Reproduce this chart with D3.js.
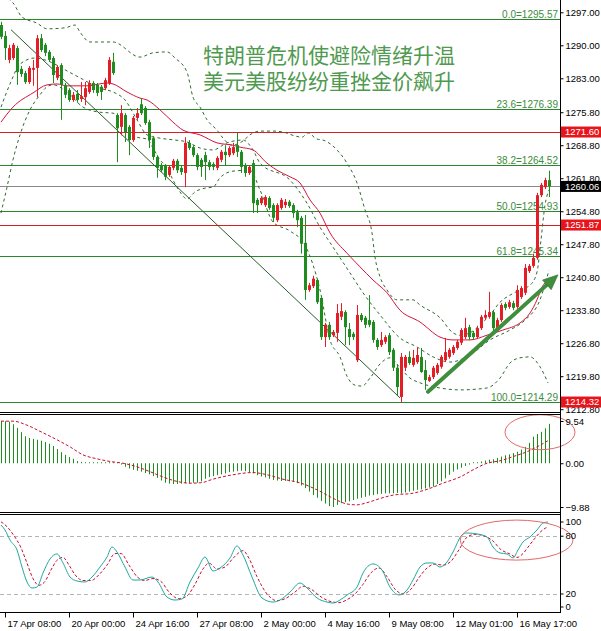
<!DOCTYPE html>
<html>
<head>
<meta charset="utf-8">
<script src="https://cdn.jsdelivr.net/npm/d3@7"></script>
<style>
  body { margin: 0; background: #fff; }
  text { font-family: "Liberation Sans", Arial, sans-serif; }
</style>
</head>
<body>
<svg id="chart" width="601" height="631"></svg>
<script>
'use strict';

// ---- data (H4 gold, MT4 style) ----
var opens = [1294.3,1292.0,1286.9,1287.3,1289.4,1285.0,1284.1,1282.2,1284.8,1285.2,
  1291.5,1290.1,1288.6,1287.3,1283.1,1285.8,1281.6,1280.5,1278.4,1279.7,
  1278.6,1279.0,1280.1,1282.0,1281.6,1281.2,1280.9,1282.0,1286.5,1275.2,
  1272.7,1275.2,1272.7,1269.9,1274.6,1277.5,1276.7,1273.7,1270.3,1266.3,
  1264.6,1264.4,1262.5,1264.0,1265.5,1264.0,1262.9,1269.3,1268.4,1266.7,
  1265.7,1266.7,1265.2,1264.8,1264.0,1265.7,1267.4,1266.7,1267.1,1268.8,
  1267.4,1264.6,1262.9,1265.0,1257.2,1256.5,1256.1,1257.6,1256.1,1252.9,
  1255.5,1256.1,1256.8,1256.1,1254.6,1253.4,1248.1,1238.1,1238.9,1240.2,
  1236.4,1228.1,1230.7,1228.5,1229.0,1232.4,1233.4,1229.8,1228.8,1223.2,
  1232.8,1232.2,1231.7,1231.3,1227.5,1226.4,1227.1,1228.5,1225.4,1221.6,
  1215.4,1221.6,1223.9,1222.2,1222.8,1223.9,1221.1,1218.8,1219.6,1220.5,
  1221.8,1223.2,1223.9,1224.7,1225.8,1226.9,1228.1,1230.2,1229.0,1228.1,
  1230.0,1232.2,1232.4,1233.4,1230.0,1231.7,1235.1,1234.5,1235.3,1234.5,
  1236.6,1237.5,1242.1,1243.2,1244.9,1258.2,1259.9,1261.4];
var highs = [1295.0,1293.0,1290.1,1290.5,1289.9,1285.6,1284.6,1285.6,1286.9,1292.2,
  1292.4,1290.5,1289.0,1287.7,1285.8,1286.2,1282.0,1280.9,1280.1,1280.5,
  1282.2,1282.2,1282.6,1282.4,1282.0,1281.6,1283.1,1287.5,1288.4,1275.6,
  1277.3,1275.6,1273.1,1275.0,1276.7,1278.8,1277.1,1274.2,1270.7,1266.7,
  1265.0,1264.8,1264.6,1265.9,1265.9,1264.6,1270.5,1269.9,1268.8,1267.1,
  1266.1,1267.4,1265.7,1265.2,1266.5,1267.8,1268.8,1268.6,1269.3,1271.4,
  1267.8,1265.0,1264.6,1265.7,1257.6,1258.0,1258.2,1258.0,1256.5,1256.5,
  1257.6,1257.4,1257.2,1256.5,1255.1,1253.8,1254.0,1239.6,1241.1,1240.5,
  1236.6,1231.1,1231.3,1229.6,1235.1,1235.3,1233.8,1231.1,1229.2,1234.9,
  1233.2,1232.6,1237.0,1231.7,1227.9,1229.2,1228.5,1229.0,1225.8,1222.2,
  1224.7,1224.3,1225.1,1225.4,1225.8,1225.8,1223.2,1220.1,1222.0,1222.6,
  1224.3,1227.9,1225.8,1226.4,1227.5,1230.0,1232.2,1230.7,1229.4,1230.5,
  1232.8,1233.8,1237.7,1233.8,1232.2,1235.3,1235.5,1236.0,1235.8,1239.1,
  1238.9,1243.6,1243.6,1245.8,1258.7,1260.8,1261.9,1263.4];
var lows = [1291.3,1286.9,1286.2,1286.9,1281.6,1283.3,1281.8,1281.8,1281.4,1279.0,
  1288.6,1287.7,1286.5,1282.0,1282.6,1274.2,1278.8,1278.0,1278.0,1277.8,
  1278.0,1277.3,1279.7,1279.9,1279.2,1278.4,1280.5,1281.6,1283.7,1265.2,
  1270.9,1269.5,1266.7,1269.5,1274.2,1275.2,1273.1,1268.2,1265.7,1261.9,
  1263.1,1261.4,1262.1,1263.5,1262.9,1262.5,1259.9,1267.8,1266.3,1263.5,
  1262.1,1261.4,1263.5,1263.5,1263.5,1265.2,1264.6,1266.3,1266.7,1266.3,
  1262.9,1262.1,1262.5,1254.4,1254.4,1256.1,1255.7,1255.1,1252.5,1252.5,
  1255.1,1255.5,1255.5,1253.4,1251.4,1245.8,1236.0,1237.7,1238.5,1235.1,
  1227.5,1226.0,1227.5,1228.1,1227.1,1231.7,1226.4,1226.4,1227.5,1222.8,
  1231.3,1230.0,1230.2,1226.9,1225.4,1226.0,1226.6,1224.3,1220.9,1215.8,
  1214.3,1220.9,1222.2,1221.8,1222.4,1220.5,1216.9,1218.6,1219.2,1220.1,
  1221.4,1222.8,1223.5,1224.3,1225.4,1226.4,1227.7,1227.5,1227.5,1227.7,
  1229.6,1231.7,1232.0,1229.2,1229.6,1231.3,1233.8,1234.1,1233.8,1234.1,
  1236.2,1237.0,1241.7,1242.8,1244.5,1257.8,1259.5,1257.8];
var closes = [1291.8,1289.4,1289.4,1290.1,1284.3,1283.9,1282.2,1285.2,1285.2,1291.5,
  1289.0,1288.4,1286.9,1283.7,1285.4,1281.6,1279.5,1278.4,1279.5,1278.4,
  1279.2,1280.9,1282.0,1280.5,1279.9,1280.1,1282.6,1286.9,1284.1,1272.4,
  1275.6,1271.6,1269.9,1274.6,1275.6,1275.6,1273.5,1269.9,1266.3,1264.0,
  1263.5,1262.1,1264.2,1265.5,1263.5,1263.1,1269.3,1268.2,1266.7,1264.2,
  1264.2,1265.2,1264.2,1264.2,1266.1,1267.4,1266.7,1268.2,1268.4,1267.4,
  1264.2,1262.9,1264.2,1256.5,1256.1,1257.6,1257.8,1255.5,1253.4,1256.1,
  1257.2,1256.8,1255.9,1254.4,1252.9,1247.9,1238.1,1239.1,1240.5,1235.5,
  1228.1,1230.7,1228.1,1229.2,1233.2,1233.6,1230.2,1228.1,1228.1,1232.8,
  1231.7,1230.7,1230.7,1227.5,1226.0,1227.5,1228.1,1224.9,1221.6,1217.5,
  1223.9,1223.9,1222.6,1223.7,1224.3,1220.7,1219.0,1219.6,1221.6,1222.2,
  1223.9,1224.9,1225.4,1226.0,1227.1,1229.6,1230.0,1228.1,1228.1,1230.0,
  1232.4,1232.8,1233.4,1230.0,1231.7,1234.9,1234.3,1235.5,1234.3,1238.1,
  1238.5,1242.8,1243.2,1244.9,1258.2,1260.4,1261.4,1260.06];

// moving average and bands, [bar, price]
var maLine = [[0,1273.7],[3,1276.9],[8,1279.9],[11.5,1281.6],[14,1281.8],[16.5,1281.4],[21.5,1281.4],
  [26.5,1282.0],[28,1281.8],[31.5,1280.1],[34.75,1278.8],[36.5,1278.4],[39.75,1276.3],[43,1273.7],
  [45.5,1272.0],[49.75,1271.0],[54,1269.3],[58,1268.8],[59.75,1268.4],[63,1267.8],[66.5,1265.0],
  [69,1263.5],[72.25,1262.1],[74.75,1260.8],[77.25,1257.2],[79.75,1254.4],[82.25,1250.2],[86.5,1245.9],
  [89.75,1243.0],[93,1240.2],[96.5,1237.5],[99.75,1233.8],[104.75,1231.3],[109.75,1228.1],[113,1227.5],
  [117.25,1227.5],[121.5,1228.5],[125.5,1229.6],[129.75,1231.1],[132.25,1233.2],[134,1236.0],
  [135.25,1238.7],[136.75,1240.2]];
var bandUpper = [[0,1304.9],[2.25,1299.6],[3,1299.0],[5.25,1296.0],[9,1294.7],[11.5,1293.5],[16,1293.7],
  [18.5,1294.3],[19.75,1292.8],[22.25,1290.7],[28,1290.7],[34.75,1287.5],[38,1288.4],[41.5,1288.6],
  [43.5,1287.3],[46.5,1284.3],[48,1279.0],[49.75,1276.9],[51.5,1274.2],[54,1272.0],[55.5,1270.3],
  [57.75,1268.8],[59.75,1269.3],[63,1271.4],[64.75,1271.8],[68,1271.8],[70.5,1271.6],[73,1270.9],
  [75.25,1270.5],[76.75,1271.4],[79,1270.1],[80.5,1269.9],[84,1267.8],[86.5,1265.0],[89,1260.8],
  [91,1255.1],[92.75,1250.2],[93.5,1245.1],[94.75,1240.9],[96.5,1238.1],[99,1236.0],[103,1236.0],
  [104.75,1234.9],[109.75,1232.2],[113,1229.0],[114.75,1228.5],[117.25,1229.0],[119.75,1230.7],
  [122.25,1232.8],[124.75,1235.5],[127.25,1237.0],[129.75,1238.1],[132.25,1239.1],[134,1241.9],
  [135,1248.7],[136,1256.1],[137,1259.3]];
var bandLower = [[0,1254.4],[1.5,1259.9],[3,1265.7],[4.75,1271.0],[7.25,1276.3],[9.75,1279.5],
  [11.5,1281.2],[13,1281.6],[16.5,1280.1],[20.5,1276.9],[24.75,1275.8],[28,1275.6],[31,1273.1],
  [34,1270.5],[36.5,1270.1],[38,1268.2],[39.75,1265.7],[41.5,1264.0],[43,1261.4],[44.75,1258.9],
  [46.5,1257.4],[48.5,1258.9],[51,1259.7],[53,1259.9],[54.75,1261.9],[58,1263.3],[62.25,1263.5],
  [64.75,1259.3],[68,1252.5],[72.25,1250.6],[76,1247.6],[79.75,1238.1],[82.25,1227.5],[84.75,1223.9],
  [86.5,1219.8],[88.5,1217.9],[90.25,1217.7],[92.25,1219.4],[94.75,1222.4],[97.25,1223.7],
  [99.75,1221.6],[102.25,1219.4],[104.75,1218.4],[109.75,1217.3],[114.75,1216.9],[121.5,1217.3],
  [124.75,1219.4],[127.25,1222.6],[129.75,1223.7],[132.25,1223.9],[134.75,1221.8],[136.75,1218.4]];
var bandInner = [[0,1276.9],[2.25,1281.8],[4.75,1286.0],[8.5,1287.3],[12.25,1286.5],[16,1284.8],
  [19.75,1283.1],[24.75,1280.9],[28,1280.1],[31,1278.4],[34,1274.2],[36.5,1271.0],[39.75,1270.3],
  [43.5,1269.9],[46.5,1269.5],[49.75,1268.2],[53,1267.8],[56.5,1269.3],[60.5,1269.9],[63,1267.8],
  [64.75,1265.0],[72.25,1261.4],[76.5,1256.5],[79.75,1251.4],[83,1247.2],[87.25,1241.7],[90.5,1237.5],
  [94.75,1232.8],[99.75,1227.9],[104,1226.0],[108,1223.9],[112.25,1222.8],[117.25,1224.3],
  [122.25,1227.5],[127.25,1229.6],[131,1231.7],[134.75,1236.0],[137,1242.3]];

// MACD histogram per bar, signal as [bar, value]
var macdHist = [9.54,9.5,9.4,8.8,8.0,7.0,6.1,5.7,5.5,5.3,
  5.1,4.8,4.4,3.9,3.2,2.5,1.9,1.4,1.0,0.5,
  0.3,0.2,0.1,0.1,0.1,0.05,0.05,0.05,0.0,-0.1,
  -0.3,-0.8,-1.2,-1.5,-1.7,-1.9,-2.2,-2.5,-2.9,-3.3,
  -3.9,-4.4,-4.6,-4.7,-4.7,-4.6,-4.5,-4.5,-4.4,-4.4,
  -4.1,-3.5,-3.1,-2.9,-2.7,-2.5,-2.3,-2.0,-1.9,-1.8,
  -1.7,-1.8,-2.0,-2.3,-2.7,-3.0,-3.2,-3.5,-3.8,-3.9,
  -4.0,-4.0,-4.1,-4.1,-4.5,-5.0,-5.6,-6.4,-7.2,-7.8,
  -8.5,-9.1,-9.7,-9.88,-9.4,-9.0,-8.8,-8.6,-8.3,-8.0,
  -7.8,-7.6,-7.3,-7.2,-7.0,-6.9,-6.8,-6.8,-6.8,-6.7,
  -6.8,-6.6,-6.4,-6.2,-6.0,-5.9,-5.7,-5.5,-5.3,-4.7,
  -4.1,-3.4,-2.6,-1.9,-1.4,-1.0,-0.6,-0.3,0.0,0.2,
  0.4,0.6,0.8,0.9,1.2,1.5,1.8,2.0,2.3,2.6,
  3.1,3.7,4.6,6.0,6.6,7.1,7.9,8.9];
var macdSignal = [[0,9.5],[3,9.5],[6.5,8.6],[10,7.1],[14,5.3],[17.25,3.7],[20.5,1.9],[24,1.0],
  [27.25,0.4],[30.5,0],[34,-0.8],[37.25,-1.9],[40.5,-3.1],[44,-4.1],[47.25,-4.5],[50,-4.4],[53,-3.6],
  [58,-2.6],[63,-2.1],[66.5,-2.6],[70.5,-3.6],[75,-4.5],[79,-6.0],[83,-7.9],[86.5,-9.2],[89,-9.4],
  [91.5,-8.9],[95,-7.9],[98,-7.2],[100,-7.0],[102,-6.9],[106.5,-5.9],[110.5,-4.5],[115,-3.0],
  [118,-1.5],[121.5,0],[125,0.6],[128,1.5],[131.5,2.6],[134,3.7],[136.75,5.1]];

// Stochastic, [bar, value]
var stochMain = [[0,91.7],[1,86.5],[2.25,76],[4,65.7],[5.25,48],[6.5,32.4],[7.75,26.2],[9,27.2],
  [10.5,41.8],[12.25,56.4],[14,61.6],[15.5,52.2],[17.25,37.6],[19,33.5],[21,32.4],[22.75,37.6],
  [24.75,48],[26.5,58.4],[27.75,68.8],[29,63.6],[31,48],[33,34.5],[34.75,34.5],[37.75,37.6],
  [39.25,32.4],[41.5,16.8],[43.5,13.7],[45.25,14.8],[47.25,32.4],[49.25,47],[51,58.4],[53,43.9],
  [54.75,47],[57.25,57.4],[59,69.9],[60.5,60.5],[62.75,37.6],[65.25,15.8],[68,11.6],[69.75,13.7],
  [72.25,22],[74.75,31.4],[76.5,26.2],[79,15.8],[81.5,11.6],[83,10.6],[84.75,13.7],[86.5,18.9],
  [89,27.2],[90.5,41.8],[93,51.2],[95.25,44.9],[97.25,27.2],[99.5,19],[101.5,24.1],[103,34.5],
  [104.75,48],[106.5,52.2],[108,52.2],[109.75,48],[111.5,53.2],[113,63.6],[115.25,81.3],[116.5,83.4],
  [119,82.4],[121.5,79.2],[123,68.8],[124.75,62.6],[126.5,61.6],[128,57.4],[129.25,65.7],[130.5,74],
  [132.25,79.2],[134,86.5],[135.5,93.8],[136.75,94.8]];
var stochSignal = [[0,95],[1.5,90],[3,82],[5,68],[6.5,52],[8,36],[9.5,29],[11,33],[12.5,45],[14,55],
  [15.5,58],[17,50],[18.5,40],[20.5,34],[22.5,34],[24.5,40],[26.5,50],[28.5,62],[30,62],[32,50],
  [34,38],[36,34],[38,36],[40,33],[42,22],[44.5,15],[46.5,18],[48.5,30],[50.5,46],[52,52],[54,46],
  [56,48],[58,57],[60.5,65],[62,57],[64,38],[66.5,20],[69,13],[71,15],[73.5,22],[75.5,28],[77.5,25],
  [80,17],[82.5,12],[84.5,11],[86.5,14],[88.5,20],[90.5,30],[92.5,42],[94.5,47],[96.5,38],[98.5,25],
  [100.5,20],[102.5,25],[104.5,37],[106.5,47],[108.5,51],[110.5,50],[112.5,54],[114.5,66],[116.5,79],
  [118.5,82],[121,80],[123,75],[125,66],[127,62],[129,58],[130.5,62],[132,70],[133.5,78],[135,85],
  [136.75,90]];

var priceTicks = [1297.00,1290.00,1283.00,1275.80,1268.80,1261.80,1254.80,1247.80,1240.80,1233.80,1226.80,1219.80,1212.80];
var fibNames = ['0.0','23.6','38.2','50.0','61.8','100.0'];
var fibPrices = [1295.57,1276.39,1264.52,1254.93,1245.34,1214.29];
var redLevels = [1271.60,1251.87];
var bidPrice = 1260.06;
var alertPrice = 1214.32;
var macdTicks = [9.54,0,-9.88];
var stochTicks = [100,80,20,0];
var stochLevels = [80,20];
var timeBars = [1,17,33,49,65,81,97,113,129];
var timeLabels = ['17 Apr 08:00','20 Apr 00:00','24 Apr 16:00','27 Apr 08:00','2 May 00:00',
  '4 May 16:00','9 May 08:00','12 May 01:00','16 May 17:00'];
var trendLine = [[2.5,1293.3],[99.75,1215.2]];
var arrowLine = [[106.75,1216.5],[139.25,1241.3]];
var titleLines = ['特朗普危机使避险情绪升温','美元美股纷纷重挫金价飙升'];

// ---- layout ----
var axisX = 560;
var mainBottom = 412, macdTop = 414, macdBottom = 512, stochTop = 514, stochBottom = 612;
var upColor = '#e41e26', downColor = '#1f8c1f';
var axisFont = 9.5;

var svg = d3.select('#chart');
var x = d3.scaleLinear().domain([0, 137]).range([1, 549]);
var yPrice = d3.scaleLinear().domain([1212.8, 1297]).range([409.2, 12.3]);
var yMacd = d3.scaleLinear().domain([-9.88, 9.54]).range([507, 421]);
var yStoch = d3.scaleLinear().domain([0, 100]).range([613.2, 517]);

var defs = svg.append('defs');
[['clipMain', 0, mainBottom], ['clipMacd', macdTop + 1, macdBottom - macdTop - 1], ['clipStoch', stochTop + 1, stochBottom - stochTop - 1]]
  .forEach(function (c) {
    defs.append('clipPath').attr('id', c[0]).append('rect')
      .attr('x', 0).attr('y', c[1]).attr('width', axisX).attr('height', c[2]);
  });

// ---- main panel ----
var main = svg.append('g').attr('clip-path', 'url(#clipMain)');

fibPrices.forEach(function (p, i) {
  var yy = Math.round(yPrice(p)) + 0.5;
  main.append('line').attr('x1', 0).attr('x2', axisX).attr('y1', yy).attr('y2', yy)
    .attr('stroke', '#2a872a').attr('stroke-width', 1);
  main.append('text').attr('x', 558).attr('y', yy - 2).attr('text-anchor', 'end')
    .attr('font-size', 10).attr('fill', '#3c8c3c').text(fibNames[i] + '=' + p.toFixed(2));
});
redLevels.forEach(function (p) {
  var yy = Math.round(yPrice(p)) + 0.5;
  main.append('line').attr('x1', 0).attr('x2', axisX).attr('y1', yy).attr('y2', yy)
    .attr('stroke', '#d42020');
});
(function () {
  var yy = Math.round(yPrice(bidPrice)) + 0.5;
  main.append('line').attr('x1', 0).attr('x2', axisX).attr('y1', yy).attr('y2', yy)
    .attr('stroke', '#8a8a8a');
})();

titleLines.forEach(function (t, i) {
  main.append('text').attr('x', 203).attr('y', 63 + i * 26)
    .style('font-family', '"Noto Sans CJK SC", sans-serif')
    .attr('font-size', 21).attr('fill', '#4f9a4f').text(t);
});

var bandPath = d3.line()
  .x(function (d) { return x(d[0]); })
  .y(function (d) { return yPrice(d[1]); })
  .curve(d3.curveMonotoneX);
[bandUpper, bandLower, bandInner].forEach(function (b) {
  main.append('path').attr('d', bandPath(b)).attr('fill', 'none')
    .attr('stroke', '#2e6b2e').attr('stroke-width', 1).attr('stroke-dasharray', '3,3');
});
main.append('path').attr('d', bandPath(maLine)).attr('fill', 'none')
  .attr('stroke', '#d4143c').attr('stroke-width', 1);

main.append('line')
  .attr('x1', x(trendLine[0][0])).attr('y1', yPrice(trendLine[0][1]))
  .attr('x2', x(trendLine[1][0])).attr('y2', yPrice(trendLine[1][1]))
  .attr('stroke', '#2d5a2d').attr('stroke-width', 1);

var candles = main.append('g').selectAll('g').data(opens).enter().append('g')
  .attr('fill', function (d, i) { return closes[i] >= opens[i] ? upColor : downColor; })
  .attr('stroke', function (d, i) { return closes[i] >= opens[i] ? upColor : downColor; });
candles.append('line')
  .attr('x1', function (d, i) { return Math.round(x(i)) + 0.5; })
  .attr('x2', function (d, i) { return Math.round(x(i)) + 0.5; })
  .attr('y1', function (d, i) { return yPrice(highs[i]); })
  .attr('y2', function (d, i) { return yPrice(lows[i]); })
  .attr('stroke-width', 1);
candles.append('rect')
  .attr('x', function (d, i) { return Math.round(x(i)) - 1; })
  .attr('width', 3)
  .attr('y', function (d, i) { return yPrice(Math.max(opens[i], closes[i])); })
  .attr('height', function (d, i) { return Math.max(1, Math.abs(yPrice(opens[i]) - yPrice(closes[i]))); })
  .attr('stroke', 'none');

(function () {
  var x1 = x(arrowLine[0][0]), y1 = yPrice(arrowLine[0][1]);
  var x2 = x(arrowLine[1][0]), y2 = yPrice(arrowLine[1][1]);
  var ang = Math.atan2(y2 - y1, x2 - x1);
  var head = 15, half = 6.5;
  var bx = x2 - head * Math.cos(ang), by = y2 - head * Math.sin(ang);
  main.append('line').attr('x1', x1).attr('y1', y1).attr('x2', bx).attr('y2', by)
    .attr('stroke', '#3e8e3e').attr('stroke-width', 4).attr('stroke-linecap', 'round');
  var pts = [[x2, y2],
    [bx + half * Math.sin(ang), by - half * Math.cos(ang)],
    [bx - half * Math.sin(ang), by + half * Math.cos(ang)]];
  svg.append('polygon').attr('points', pts.map(function (p) { return p.join(','); }).join(' '))
    .attr('fill', '#3e8e3e').attr('stroke', '#2e6e2e').attr('stroke-width', 0.6);
})();

// ---- MACD panel ----
var macd = svg.append('g').attr('clip-path', 'url(#clipMacd)');
macd.selectAll('line.bar').data(macdHist).enter().append('line').attr('class', 'bar')
  .attr('x1', function (d, i) { return Math.round(x(i)) + 0.5; })
  .attr('x2', function (d, i) { return Math.round(x(i)) + 0.5; })
  .attr('y1', yMacd(0))
  .attr('y2', function (d) { return Math.abs(yMacd(d) - yMacd(0)) < 1 ? yMacd(0) - 1 : yMacd(d); })
  .attr('stroke', '#1f8c1f').attr('stroke-width', 1);
var valLine = function (ys) {
  return d3.line().x(function (d) { return x(d[0]); }).y(function (d) { return ys(d[1]); })
    .curve(d3.curveMonotoneX);
};
macd.append('path').attr('d', valLine(yMacd)(macdSignal)).attr('fill', 'none')
  .attr('stroke', '#c8102e').attr('stroke-width', 1).attr('stroke-dasharray', '3,2');

// ---- Stochastic panel ----
var stoch = svg.append('g').attr('clip-path', 'url(#clipStoch)');
stochLevels.forEach(function (v) {
  var yy = Math.round(yStoch(v)) + 0.5;
  stoch.append('line').attr('x1', 0).attr('x2', axisX).attr('y1', yy).attr('y2', yy)
    .attr('stroke', '#b4b4b4').attr('stroke-dasharray', '4,3');
});
stoch.append('path').attr('d', valLine(yStoch)(stochSignal)).attr('fill', 'none')
  .attr('stroke', '#c8102e').attr('stroke-width', 1).attr('stroke-dasharray', '3,2');
stoch.append('path').attr('d', valLine(yStoch)(stochMain)).attr('fill', 'none')
  .attr('stroke', '#20a8a0').attr('stroke-width', 1);

// ellipses drawn on the indicator panels
svg.append('ellipse').attr('cx', x(134.75)).attr('cy', yMacd(7.0))
  .attr('rx', x(8.75) - x(0)).attr('ry', yMacd(0) - yMacd(3.95))
  .attr('fill', 'none').attr('stroke', '#e06a6a').attr('stroke-width', 1);
svg.append('ellipse').attr('cx', x(128.9)).attr('cy', yStoch(76))
  .attr('rx', x(14.1) - x(0)).attr('ry', yStoch(0) - yStoch(20.8))
  .attr('fill', 'none').attr('stroke', '#e06a6a').attr('stroke-width', 1);

// ---- frame ----
var frame = svg.append('g').attr('stroke', '#000').attr('stroke-width', 1);
[mainBottom, macdTop, macdBottom, stochTop, stochBottom].forEach(function (yy) {
  frame.append('line').attr('x1', 0).attr('x2', axisX + 1).attr('y1', yy + 0.5).attr('y2', yy + 0.5);
});
frame.append('line').attr('x1', axisX + 0.5).attr('x2', axisX + 0.5).attr('y1', 0).attr('y2', stochBottom + 1);

// ---- axes ----
function styleAxis(g) {
  g.select('.domain').remove();
  g.selectAll('text').attr('font-size', axisFont).attr('fill', '#000')
    .style('font-family', '"Liberation Sans", Arial, sans-serif');
  g.selectAll('line').attr('stroke', '#000');
}
svg.append('g').attr('transform', 'translate(' + (axisX + 0.5) + ',0)')
  .call(d3.axisRight(yPrice).tickValues(priceTicks).tickFormat(d3.format('.2f')).tickSize(3).tickPadding(2))
  .call(styleAxis);
svg.append('g').attr('transform', 'translate(' + (axisX + 0.5) + ',0)')
  .call(d3.axisRight(yMacd).tickValues(macdTicks).tickFormat(d3.format('.2f')).tickSize(3).tickPadding(2))
  .call(styleAxis);
var stochAxis = svg.append('g').attr('transform', 'translate(' + (axisX + 0.5) + ',0)')
  .call(d3.axisRight(yStoch).tickValues(stochTicks).tickFormat(d3.format('d')).tickSize(3).tickPadding(2))
  .call(styleAxis);
stochAxis.selectAll('.tick').attr('transform', function (d) {
  var yy = Math.min(stochBottom - 5, Math.max(stochTop + 8, yStoch(d)));
  return 'translate(0,' + yy + ')';
});

var timeAxis = svg.append('g').attr('transform', 'translate(0,' + (stochBottom + 0.5) + ')')
  .call(d3.axisBottom(x).tickValues(timeBars)
    .tickFormat(function (d, i) { return timeLabels[i]; }).tickSize(5).tickPadding(3))
  .call(styleAxis);
timeAxis.selectAll('.tick').attr('transform', function (d) { return 'translate(' + (Math.round(x(d)) + 0.5) + ',0)'; });
timeAxis.selectAll('text').attr('text-anchor', 'start').attr('x', 2);

// price boxes on the axis
function priceBox(p, fill) {
  var yy = yPrice(p);
  svg.append('rect').attr('x', axisX + 1).attr('y', yy - 5.5).attr('width', 601 - axisX - 1).attr('height', 11)
    .attr('fill', fill);
  svg.append('text').attr('x', axisX + 5).attr('y', yy + 3.4).attr('font-size', axisFont)
    .attr('fill', '#fff').text(p.toFixed(2));
}
redLevels.forEach(function (p) { priceBox(p, '#e8141c'); });
priceBox(alertPrice, '#e8141c');
priceBox(bidPrice, '#000');
</script>
</body>
</html>
